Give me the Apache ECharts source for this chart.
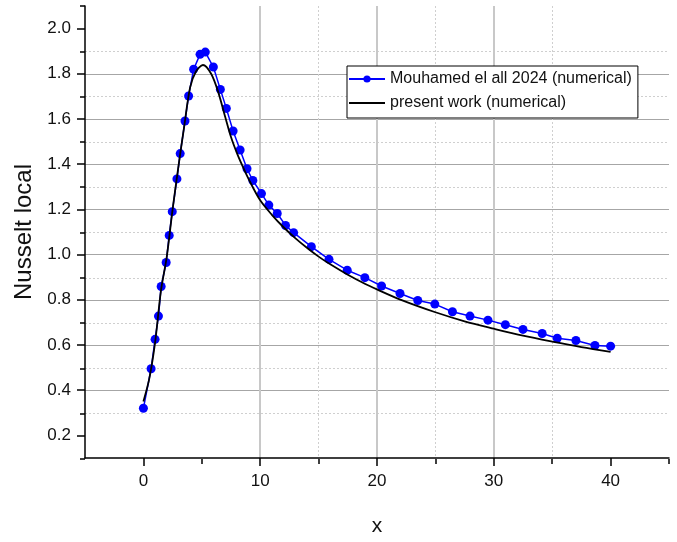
<!DOCTYPE html>
<html>
<head>
<meta charset="utf-8">
<script src="https://cdn.jsdelivr.net/npm/echarts@6/dist/echarts.min.js"></script>
<style>
html,body{margin:0;padding:0;background:#fff;}
#chartmain{width:677px;height:542px;}
</style>
</head>
<body>
<div id="chartmain"></div>
<script>
// Mouhamed el all 2024 (numerical) - points
var blueX = [0, 0.66, 1.0, 1.29, 1.52, 1.95, 2.21, 2.47, 2.87, 3.15, 3.56, 3.87, 4.3, 4.85, 5.3, 5.99, 6.59, 7.1, 7.68, 8.28, 8.87, 9.37, 10.11, 10.74, 11.46, 12.17, 12.86, 14.38, 15.89, 17.45, 18.96, 20.39, 21.97, 23.49, 24.95, 26.46, 27.96, 29.5, 30.99, 32.5, 34.14, 35.43, 37.03, 38.66, 40.0];
var blueY = [0.32, 0.495, 0.625, 0.728, 0.859, 0.965, 1.085, 1.19, 1.335, 1.447, 1.591, 1.702, 1.82, 1.886, 1.896, 1.83, 1.731, 1.647, 1.547, 1.463, 1.38, 1.328, 1.27, 1.219, 1.182, 1.129, 1.097, 1.035, 0.979, 0.931, 0.898, 0.861, 0.828, 0.797, 0.781, 0.747, 0.728, 0.71, 0.69, 0.669, 0.651, 0.63, 0.62, 0.598, 0.595];
// present work (numerical) - curve
var blackX = [0, 0.5, 1, 1.5, 2, 2.5, 3, 3.5, 4, 4.5, 5.1, 5.8, 6.4, 7, 7.5, 8, 8.5, 9, 10, 11, 12, 13, 14, 15, 16, 17.5, 19, 20, 22, 25, 27.5, 30, 32.5, 35, 37.5, 40];
var blackY = [0.35, 0.45, 0.61, 0.84, 0.99, 1.2, 1.39, 1.57, 1.74, 1.81, 1.839, 1.8, 1.72, 1.61, 1.52, 1.45, 1.39, 1.335, 1.24, 1.176, 1.121, 1.073, 1.03, 0.991, 0.957, 0.911, 0.87, 0.846, 0.801, 0.745, 0.705, 0.672, 0.641, 0.615, 0.591, 0.57];

var xMajor = [0, 10, 20, 30, 40];
var xMinor = [5, 15, 25, 35, 45];
var yMajor = [0.2, 0.4, 0.6, 0.8, 1.0, 1.2, 1.4, 1.6, 1.8, 2.0];
var yMinor = [0.1, 0.3, 0.5, 0.7, 0.9, 1.1, 1.3, 1.5, 1.7, 1.9, 2.1];

var names = ['Mouhamed el all 2024 (numerical)', 'present work (numerical)'];

function pairs(xs, ys) {
    var out = [];
    for (var i = 0; i < xs.length; i++) out.push([xs[i], ys[i]]);
    return out;
}

var myChart = echarts.init(document.getElementById('chartmain'));
var gridBox = {left: 85, right: 8, top: 6, bottom: 83};
var options = {
    backgroundColor: '#fff',
    animation: false,
    grid: [
        Object.assign({}, gridBox),
        Object.assign({}, gridBox)
    ],
    legend: {
        orient: 'vertical',
        left: 347,
        top: 66,
        data: [{name: names[0]}, {name: names[1], itemStyle: {opacity: 0}}],
        itemWidth: 36,
        itemHeight: 9,
        itemGap: 4,
        padding: [3, 6, 5, 1],
        borderColor: '#000',
        borderWidth: 1,
        borderRadius: 0,
        backgroundColor: '#fff',
        textStyle: {fontFamily: 'Liberation Sans', fontSize: 16, color: '#111', lineHeight: 20}
    },
    xAxis: [{
        // major ticks, labels, solid grid
        type: 'value', gridIndex: 0, min: -5, max: 45, position: 'bottom',
        name: 'x', nameLocation: 'middle', nameGap: 58,
        nameTextStyle: {fontFamily: 'Liberation Sans', fontSize: 21, color: '#111'},
        axisLine: {show: true, onZero: false, lineStyle: {color: '#000', width: 1.5}},
        axisTick: {show: true, customValues: xMajor, length: 8, lineStyle: {color: '#000', width: 1.5}},
        axisLabel: {customValues: xMajor, margin: 15, fontFamily: 'Liberation Sans', fontSize: 17, color: '#111'},
        splitLine: {show: true, showMinLine: false, showMaxLine: false, lineStyle: {color: '#c8c8c8', width: 2}}
    }, {
        // minor ticks, dotted grid
        type: 'value', gridIndex: 1, min: -5, max: 45, position: 'bottom',
        axisLine: {show: false, onZero: false},
        axisTick: {show: true, customValues: xMinor, length: 5, lineStyle: {color: '#000', width: 1.5}},
        axisLabel: {show: false},
        splitLine: {show: true, showMinLine: false, showMaxLine: false, lineStyle: {color: '#cfcfcf', width: 1, type: [2, 2]}}
    }],
    yAxis: [{
        type: 'value', gridIndex: 0, min: 0.1, max: 2.1, position: 'left',
        name: 'Nusselt local', nameLocation: 'middle', nameGap: 48,
        nameTextStyle: {fontFamily: 'Liberation Sans', fontSize: 24, color: '#111'},
        axisLine: {show: true, onZero: false, lineStyle: {color: '#000', width: 1.5}},
        axisTick: {show: true, customValues: yMajor, length: 8, lineStyle: {color: '#000', width: 1.5}},
        axisLabel: {customValues: yMajor, margin: 14, fontFamily: 'Liberation Sans', fontSize: 17, color: '#111',
            formatter: function(v) { return v.toFixed(1); }},
        splitLine: {show: true, showMinLine: false, showMaxLine: false, lineStyle: {color: '#a6a6a6', width: 1}}
    }, {
        type: 'value', gridIndex: 1, min: 0.1, max: 2.1, position: 'left',
        axisLine: {show: false, onZero: false},
        axisTick: {show: true, customValues: yMinor, length: 5, lineStyle: {color: '#000', width: 1.5}},
        axisLabel: {show: false},
        splitLine: {show: true, showMinLine: false, showMaxLine: false, lineStyle: {color: '#cfcfcf', width: 1, type: [2, 2]}}
    }],
    series: [{
        name: names[0],
        type: 'line',
        xAxisIndex: 0, yAxisIndex: 0,
        data: pairs(blueX, blueY),
        symbol: 'circle',
        symbolSize: 9,
        itemStyle: {color: '#0000ff'},
        lineStyle: {color: '#0000ff', width: 1.5},
        z: 3
    }, {
        name: names[1],
        type: 'line',
        xAxisIndex: 0, yAxisIndex: 0,
        data: pairs(blackX, blackY),
        symbol: 'none',
        smooth: 0.3,
        itemStyle: {color: '#000'},
        lineStyle: {color: '#000', width: 1.8},
        z: 4
    }]
};
myChart.setOption(options);
</script>
</body>
</html>
